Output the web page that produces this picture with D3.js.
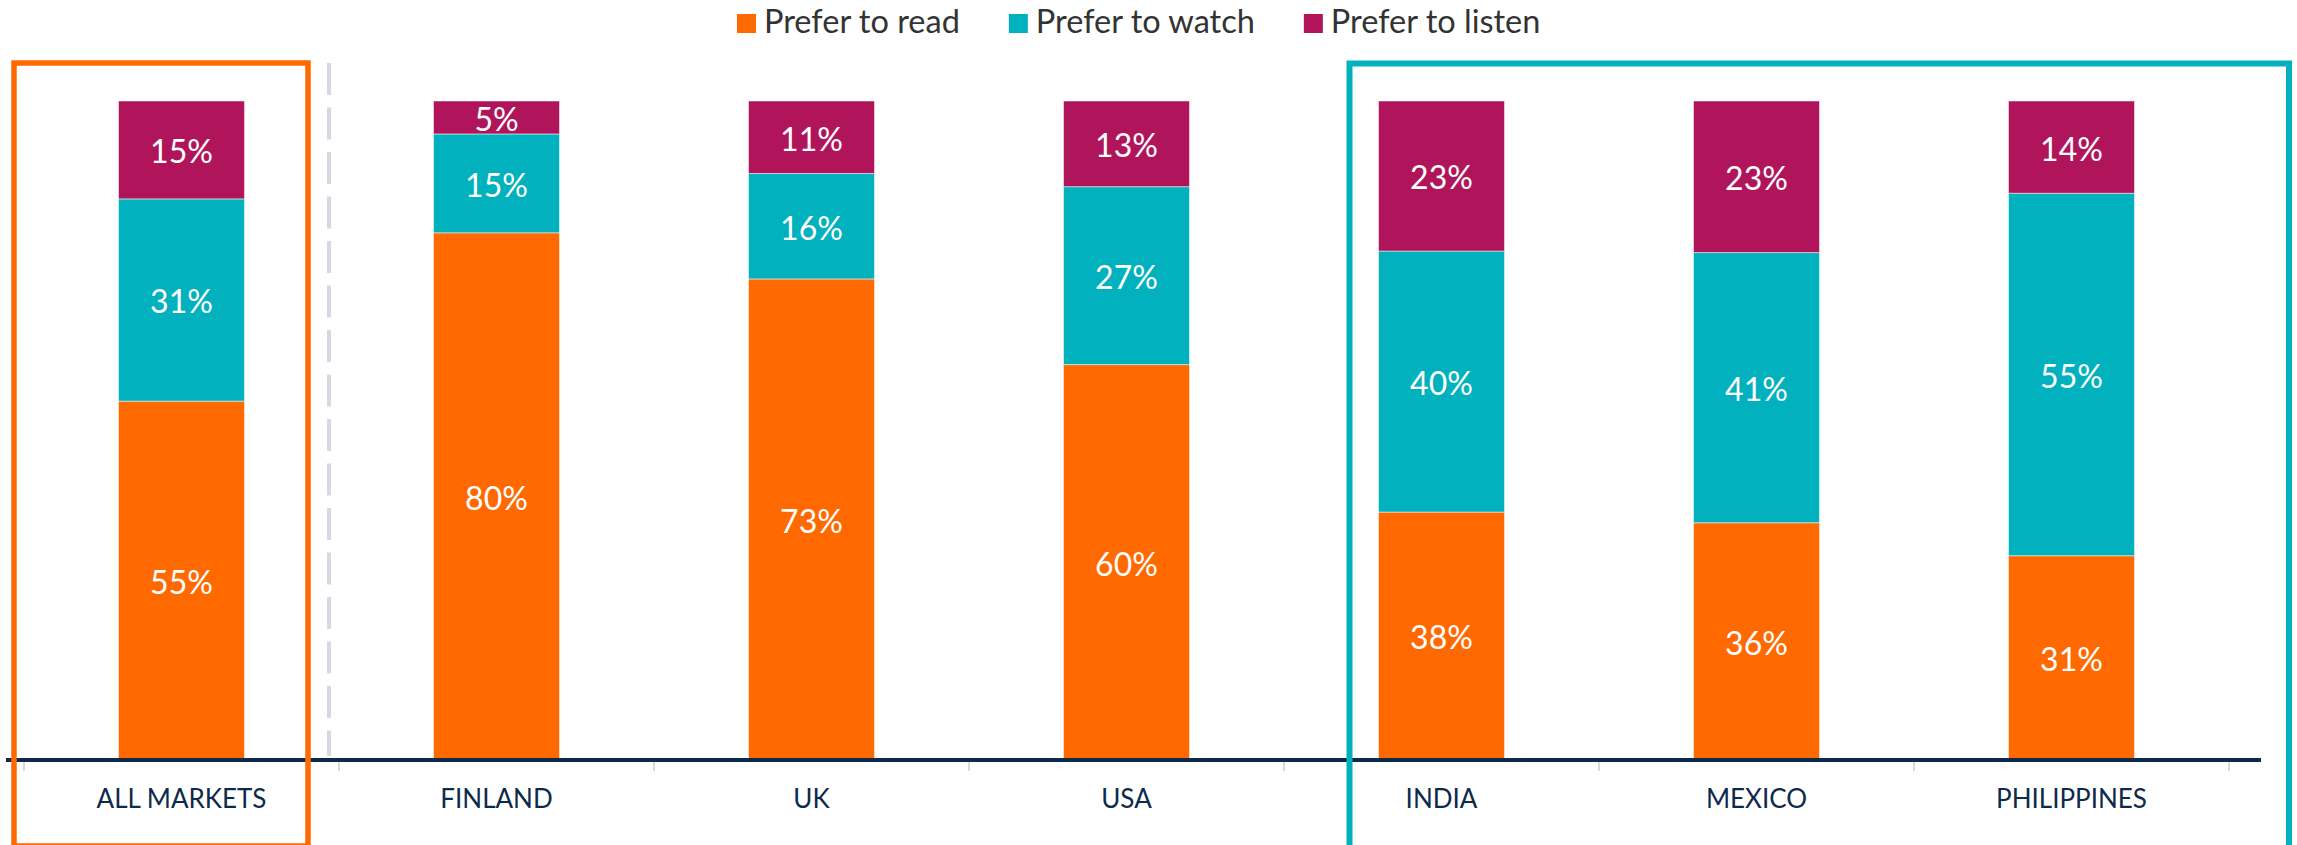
<!DOCTYPE html>
<html>
<head>
<meta charset="utf-8">
<script src="https://cdn.jsdelivr.net/npm/d3@7"></script>
<style>
  body { margin: 0; background: #fff; }
  svg { display: block; font-family: Lato, "Liberation Sans", sans-serif; }
</style>
</head>
<body>
<div id="chart"></div>
<script>
// data
var markets = ["ALL MARKETS", "FINLAND", "UK", "USA", "INDIA", "MEXICO", "PHILIPPINES"];
var preferRead = [55, 80, 73, 60, 38, 36, 31];
var preferWatch = [31, 15, 16, 27, 40, 41, 55];
var preferListen = [15, 5, 11, 13, 23, 23, 14];
var seriesKeys = ["read", "watch", "listen"];
var seriesNames = ["Prefer to read", "Prefer to watch", "Prefer to listen"];
var palette = ["#ff6900", "#01b1be", "#b0155b"];

var width = 2297, height = 845;

var svg = d3.select("#chart").append("svg")
    .attr("width", width)
    .attr("height", height);

var rows = markets.map(function(m, i) {
  return {market: m, read: preferRead[i], watch: preferWatch[i], listen: preferListen[i]};
});

// 100% stacked
var stack = d3.stack().keys(seriesKeys).offset(d3.stackOffsetExpand);
var layers = stack(rows);

var x = d3.scaleBand()
    .domain(markets)
    .range([24, 2229])
    .paddingInner(0.6)
    .paddingOuter(0.3);

var y = d3.scaleLinear()
    .domain([0, 1])
    .range([760, 101]);

var color = d3.scaleOrdinal().domain(seriesKeys).range(palette);

// dashed separator after "all markets"
svg.append("line")
    .attr("x1", 329).attr("x2", 329)
    .attr("y1", 63).attr("y2", 756)
    .attr("stroke", "#d6d9e1")
    .attr("stroke-width", 4)
    .attr("stroke-dasharray", "32 12.5");

// bars
var layer = svg.append("g").selectAll("g")
  .data(layers)
  .enter().append("g")
    .attr("fill", function(d) { return color(d.key); });

layer.selectAll("rect")
  .data(function(d) { return d; })
  .enter().append("rect")
    .attr("x", function(d) { return x(d.data.market); })
    .attr("y", function(d) { return y(d[1]); })
    .attr("width", x.bandwidth())
    .attr("height", function(d) { return y(d[0]) - y(d[1]); })
    .attr("stroke", "#fff")
    .attr("stroke-opacity", 0.5)
    .attr("stroke-width", 1);

// value labels
layers.forEach(function(l) {
  svg.append("g").selectAll("text")
    .data(l)
    .enter().append("text")
      .attr("x", function(d) { return x(d.data.market) + x.bandwidth() / 2; })
      .attr("y", function(d) { return (y(d[0]) + y(d[1])) / 2; })
      .attr("dy", "0.42em")
      .attr("text-anchor", "middle")
      .attr("fill", "#fff")
      .style("font-size", "32px")
      .text(function(d) { return d.data[l.key] + "%"; });
});

// x axis: labels from d3 axis, ticks at band edges
var xAxis = d3.axisBottom(x).tickSize(0).tickPadding(0);
var gX = svg.append("g")
    .attr("transform", "translate(0,760)")
    .call(xAxis);
gX.select(".domain").remove();
gX.selectAll("text")
    .attr("y", 48)
    .attr("dy", 0)
    .attr("fill", "#0d2a4b")
    .style("font-family", "Lato, sans-serif")
    .style("font-size", "26px");

var edges = d3.range(markets.length + 1).map(function(i) { return x.range()[0] + i * x.step(); });
svg.append("g").selectAll("line")
  .data(edges)
  .enter().append("line")
    .attr("x1", function(d) { return d; })
    .attr("x2", function(d) { return d; })
    .attr("y1", 762).attr("y2", 771)
    .attr("stroke", "#dadada")
    .attr("stroke-width", 2);

svg.append("line")
    .attr("x1", 6).attr("x2", 2261)
    .attr("y1", 760).attr("y2", 760)
    .attr("stroke", "#0e2a4b")
    .attr("stroke-width", 4);

// highlight boxes
svg.append("rect")
    .attr("x", 14).attr("y", 63)
    .attr("width", 294).attr("height", 783)
    .attr("fill", "none")
    .attr("stroke", "#ff6900")
    .attr("stroke-width", 5.5);

svg.append("rect")
    .attr("x", 1349.5).attr("y", 63.5)
    .attr("width", 939.5).attr("height", 900)
    .attr("fill", "none")
    .attr("stroke", "#01b1be")
    .attr("stroke-width", 6);

// legend
var legend = svg.append("g");
var lx = 737;
seriesNames.forEach(function(name, i) {
  legend.append("rect")
      .attr("x", lx).attr("y", 14)
      .attr("width", 19).attr("height", 19)
      .attr("fill", palette[i]);
  var t = legend.append("text")
      .attr("x", lx + 27).attr("y", 33)
      .attr("fill", "#333")
      .style("font-size", "32.5px")
      .text(name);
  lx += 27 + t.node().getComputedTextLength() + 49;
});
</script>
</body>
</html>
